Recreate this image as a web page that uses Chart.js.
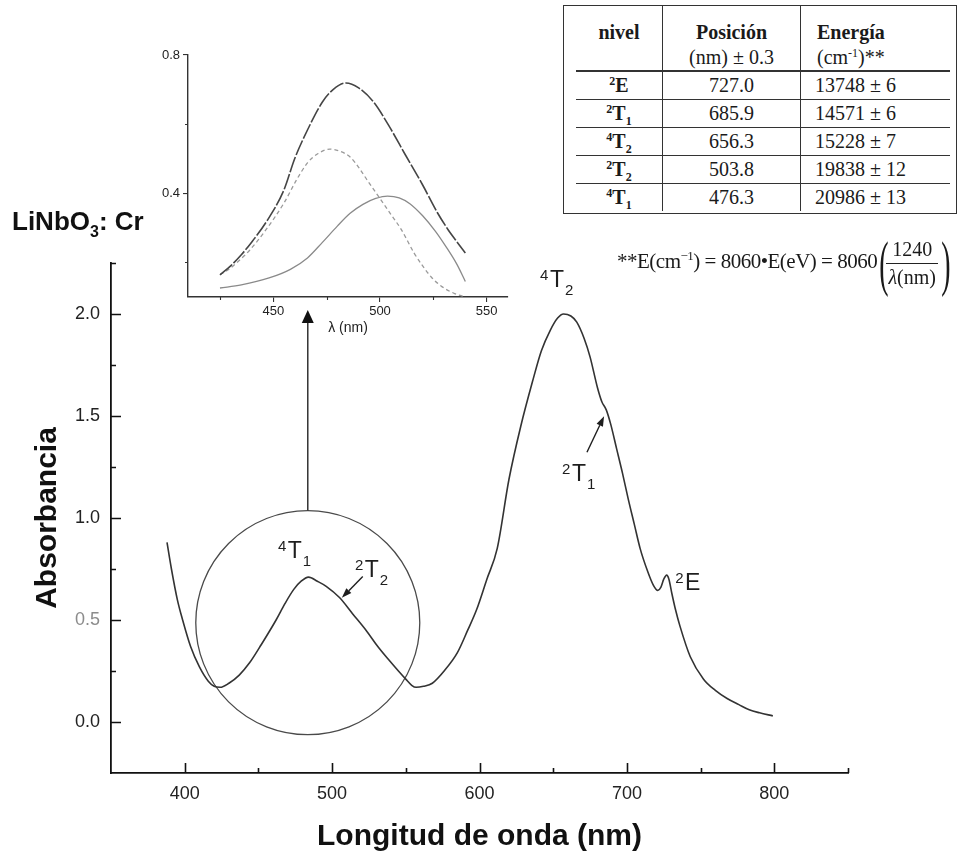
<!DOCTYPE html>
<html>
<head>
<meta charset="utf-8">
<title>LiNbO3: Cr — Absorbancia</title>
<script src="https://cdn.jsdelivr.net/npm/chart.js@4.4.1/dist/chart.umd.min.js"></script>
<style>
  html, body { margin: 0; padding: 0; width: 962px; height: 855px; overflow: hidden; background: #fff; }
  #main { position: absolute; left: 0; top: 0; }
  #inset { position: absolute; left: 120px; top: 30px; }
  .sample { position: absolute; left: 12px; top: 206px; line-height: 26px; white-space: nowrap;
            font: bold 26px "Liberation Sans", Arial, sans-serif; color: #111; }
  .sample sub { font-size: 16px; vertical-align: -7px; line-height: 0; }
  #levels { position: absolute; left: 563px; top: 5px; width: 394px; height: 209px; box-sizing: border-box;
            border: 1.5px solid #333; background: #fff; }
  #levels table { position: absolute; left: 12px; top: 0; width: 374px; border-collapse: collapse; table-layout: fixed;
            font: 20px "Liberation Serif", "Times New Roman", serif; color: #1a1a1a; }
  #levels th { font-weight: normal; vertical-align: top; padding: 14px 0 0 0; height: 50px; line-height: 25px; }
  #levels th b { font-weight: bold; }
  #levels td { height: 27px; padding: 0; line-height: 27px; border-top: 1.5px solid #333; }
  #levels thead tr th { border-bottom: 2.2px solid #333; }
  #levels .c1 { width: 86px; text-align: center; }
  #levels .c2 { width: 137px; text-align: center; border-left: 1.5px solid #333; }
  #levels .c3 { text-align: left; padding-left: 16px; border-left: 1.5px solid #333; }
  #levels td.c3 { padding-left: 14px; }
  #levels sup { font-size: 12px; vertical-align: 7px; line-height: 0; }
  #levels sub { font-size: 12px; vertical-align: -5px; line-height: 0; }
  #levels .term { font-weight: bold; }
  #formula { position: absolute; left: 617px; top: 232px; height: 62px; display: flex; align-items: center;
             font: 21px "Liberation Serif", "Times New Roman", serif; color: #1a1a1a; white-space: nowrap; }
  #formula .lhs { position: relative; top: -2px; letter-spacing: -0.5px; }
  #formula .lhs sup { font-size: 13px; vertical-align: 8px; line-height: 0; }
  #formula .paren { font-size: 62px; line-height: 62px; display: inline-block; transform: scaleX(0.45); width: 8px; text-align: center; font-weight: normal; }
  #formula .frac { display: inline-flex; flex-direction: column; align-items: center; margin: 0 1px; line-height: 27px; font-size: 20px; }
  #formula .bar { display: block; width: 52px; height: 0; border-top: 1.3px solid #222; }
</style>
</head>
<body>
<canvas id="main" width="962" height="855"></canvas>
<canvas id="inset" width="400" height="320"></canvas>
<div class="sample">LiNbO<sub>3</sub>: Cr</div>
<div id="levels">
  <table>
    <thead>
      <tr>
        <th class="c1"><b>nivel</b></th>
        <th class="c2"><b>Posición</b><br>(nm) ± 0.3</th>
        <th class="c3"><b>Energía</b><br>(cm<sup>-1</sup>)**</th>
      </tr>
    </thead>
    <tbody id="levelRows"></tbody>
  </table>
</div>
<div id="formula">
  <span class="lhs">**E(cm<sup>−1</sup>) = 8060•E(eV) = 8060</span>
  <span class="paren">(</span>
  <span class="frac"><span>1240</span><span class="bar"></span><span><i>λ</i>(nm)</span></span>
  <span class="paren">)</span>
</div>

<script>
// ---- Absorption spectrum of LiNbO3:Cr (wavelength in nm, absorbance) ----
const spectrumNm = [388, 391, 395, 398.6, 404, 410, 416, 420, 424, 430, 437, 444, 452, 462, 468, 474, 479, 484,
                    490, 496, 505, 514, 523, 531, 539, 545, 550, 554, 557, 562, 568, 576, 585, 592, 598, 605,
                    612, 620, 628, 636, 642, 648, 653, 657, 662, 666, 671, 675, 680, 683, 686, 689, 693, 697,
                    701, 705, 709, 714, 718, 721, 723, 725, 727, 728.5, 730.5, 733, 736, 743, 752, 760, 768,
                    776, 783, 790, 799];
const spectrumAbs = [0.88, 0.75, 0.60, 0.50, 0.37, 0.27, 0.20, 0.175, 0.17, 0.19, 0.23, 0.29, 0.38, 0.50, 0.58, 0.65, 0.69, 0.71,
                     0.69, 0.665, 0.61, 0.53, 0.45, 0.37, 0.30, 0.25, 0.21, 0.18, 0.17, 0.175, 0.19, 0.25, 0.34, 0.45, 0.55, 0.70,
                     0.85, 1.19, 1.45, 1.67, 1.82, 1.92, 1.98, 2.00, 1.99, 1.96, 1.88, 1.79, 1.64, 1.57, 1.53, 1.46, 1.34, 1.22,
                     1.09, 0.97, 0.85, 0.74, 0.67, 0.645, 0.66, 0.70, 0.72, 0.70, 0.63, 0.55, 0.47, 0.32, 0.21, 0.155, 0.115,
                     0.085, 0.06, 0.045, 0.03];

// Axis ticks of the main plot
const xMajor = [400, 500, 600, 700, 800];
const xMinor = [450, 550, 650, 750, 850];
const yMajor = [0, 0.5, 1.0, 1.5, 2.0];
const yMinor = [0.25, 0.75, 1.25, 1.75, 2.25];

// ---- Gaussian decomposition of the 4T1 band (inset) ----
const sumNm  = [425, 430, 435, 440, 447, 455, 460, 466, 473, 478, 484, 490, 497, 504, 512, 520, 527, 532, 536, 540];
const sumAbs = [0.164, 0.19, 0.222, 0.26, 0.32, 0.41, 0.50, 0.583, 0.664, 0.70, 0.719, 0.705, 0.664, 0.597, 0.51, 0.424, 0.343, 0.294, 0.26, 0.227];
const band4T1Nm  = [425, 428, 433, 439, 446, 455, 461, 466, 471, 476.5, 481, 486, 490, 494, 500, 505, 510, 516, 520, 524, 529, 535, 540];
const band4T1Abs = [0.165, 0.175, 0.20, 0.236, 0.29, 0.372, 0.44, 0.488, 0.515, 0.528, 0.522, 0.505, 0.475, 0.438, 0.385, 0.34, 0.295, 0.227, 0.19, 0.158, 0.13, 0.11, 0.10];
const band2T2Nm  = [425, 435, 448, 458, 466, 473, 480, 486, 492, 498, 503.5, 509, 514, 520, 526, 531, 536, 540];
const band2T2Abs = [0.126, 0.135, 0.155, 0.18, 0.213, 0.258, 0.305, 0.342, 0.368, 0.385, 0.392, 0.387, 0.37, 0.335, 0.29, 0.245, 0.195, 0.145];
const insetXTicks = [450, 500, 550];
const insetXMinor = [425, 475, 525];
const insetYTicks = [0.4, 0.8];
const insetYMinor = [0.2, 0.6];

// ---- Table of crystal-field levels ----
const levelSup  = ['2', '2', '4', '2', '4'];
const levelTerm = ['E', 'T', 'T', 'T', 'T'];
const levelSub  = ['', '1', '2', '2', '1'];
const levelNm   = ['727.0', '685.9', '656.3', '503.8', '476.3'];
const levelCm   = ['13748', '14571', '15228', '19838', '20986'];
const levelErr  = ['6', '6', '7', '12', '13'];

// Level labels on the spectrum, anchored (nm, absorbance) at the baseline of the main letter
const levelLabels = [
  { sup: '4', main: 'T', sub: '1', nm: 469.9, abs: 0.806 },
  { sup: '2', main: 'T', sub: '2', nm: 522.2, abs: 0.713 },
  { sup: '4', main: 'T', sub: '2', nm: 647.8, abs: 2.133 },
  { sup: '2', main: 'T', sub: '1', nm: 662.7, abs: 1.179 },
  { sup: '2', main: 'E', sub: '',  nm: 739.4, abs: 0.649 }
];
const levelArrows = [
  { fromNm: 520.8, fromAbs: 0.713, toNm: 506.6, toAbs: 0.609 },
  { fromNm: 672.9, fromAbs: 1.322, toNm: 684.5, toAbs: 1.499 }
];
// Magnified 4T1 region and the arrow pointing up to the inset
const magnifier = { nm: 483.5, abs: 0.487, topAbs: 1.037, tipAbs: 2.02 };

// ---- table rows ----
const tbody = document.getElementById('levelRows');
levelTerm.forEach((t, i) => {
  const tr = document.createElement('tr');
  tr.innerHTML =
    '<td class="c1"><span class="term"><sup>' + levelSup[i] + '</sup>' + t +
    (levelSub[i] ? '<sub>' + levelSub[i] + '</sub>' : '') + '</span></td>' +
    '<td class="c2">' + levelNm[i] + '</td>' +
    '<td class="c3">' + levelCm[i] + ' ± ' + levelErr[i] + '</td>';
  tbody.appendChild(tr);
});

const SANS = '"Liberation Sans", Arial, Helvetica, sans-serif';

// Tick marks drawn at the axis lines (inward for the main plot, outward for the inset)
const tickMarks = {
  id: 'tickMarks',
  afterDraw(chart, args, o) {
    const { ctx, chartArea } = chart;
    const sx = chart.scales.x, sy = chart.scales.y;
    const d = o.inward ? -1 : 1;
    ctx.save();
    ctx.strokeStyle = o.color;
    ctx.lineWidth = o.width;
    ctx.beginPath();
    const xs = [[o.xMajor || [], o.majorLen], [o.xMinor || [], o.minorLen]];
    const ys = [[o.yMajor || [], o.majorLen], [o.yMinor || [], o.minorLen]];
    xs.forEach(([vals, len]) => vals.forEach(v => {
      const px = Math.round(sx.getPixelForValue(v)) + 0.5;
      ctx.moveTo(px, chartArea.bottom); ctx.lineTo(px, chartArea.bottom + d * len);
    }));
    ys.forEach(([vals, len]) => vals.forEach(v => {
      const py = Math.round(sy.getPixelForValue(v)) + 0.5;
      ctx.moveTo(chartArea.left, py); ctx.lineTo(chartArea.left - d * len, py);
    }));
    ctx.stroke();
    ctx.restore();
  }
};

function arrow(ctx, x1, y1, x2, y2, headLen, headW) {
  const a = Math.atan2(y2 - y1, x2 - x1);
  const bx = x2 - headLen * Math.cos(a), by = y2 - headLen * Math.sin(a);
  ctx.beginPath();
  ctx.moveTo(x1, y1); ctx.lineTo(bx, by);
  ctx.stroke();
  ctx.beginPath();
  ctx.moveTo(x2, y2);
  ctx.lineTo(bx + headW / 2 * Math.sin(a), by - headW / 2 * Math.cos(a));
  ctx.lineTo(bx - headW / 2 * Math.sin(a), by + headW / 2 * Math.cos(a));
  ctx.closePath();
  ctx.fill();
}

// Level labels and arrows on the spectrum
const spectrumNotes = {
  id: 'spectrumNotes',
  afterDatasetsDraw(chart) {
    const { ctx } = chart;
    const sx = chart.scales.x, sy = chart.scales.y;
    ctx.save();
    ctx.fillStyle = '#1e1e1e';
    ctx.strokeStyle = '#1e1e1e';
    ctx.textBaseline = 'alphabetic';
    levelLabels.forEach(l => {
      const px = sx.getPixelForValue(l.nm), py = sy.getPixelForValue(l.abs);
      ctx.font = '23px ' + SANS;
      const w = ctx.measureText(l.main).width;
      ctx.textAlign = 'left';
      ctx.fillText(l.main, px, py);
      ctx.font = '15px ' + SANS;
      ctx.textAlign = 'right';
      ctx.fillText(l.sup, px - 1.5, py - 7);
      if (l.sub) { ctx.textAlign = 'left'; ctx.fillText(l.sub, px + w + 1, py + 8); }
    });
    ctx.lineWidth = 1.4;
    levelArrows.forEach(a => arrow(ctx,
      sx.getPixelForValue(a.fromNm), sy.getPixelForValue(a.fromAbs),
      sx.getPixelForValue(a.toNm), sy.getPixelForValue(a.toAbs), 10, 7));
    ctx.strokeStyle = '#333';
    ctx.fillStyle = '#111';
    ctx.lineWidth = 1.5;
    const mx = sx.getPixelForValue(magnifier.nm);
    arrow(ctx, mx, sy.getPixelForValue(magnifier.topAbs), mx, sy.getPixelForValue(magnifier.tipAbs), 13, 12);
    ctx.restore();
  }
};

new Chart(document.getElementById('main'), {
  type: 'line',
  data: {
    datasets: [
      {
        data: spectrumNm.map((x, i) => ({ x, y: spectrumAbs[i] })),
        borderColor: '#333',
        borderWidth: 1.6,
        pointRadius: 0,
        cubicInterpolationMode: 'monotone',
        fill: false
      },
      {
        type: 'scatter',
        data: [{ x: magnifier.nm, y: magnifier.abs }],
        pointRadius: 112,
        pointHoverRadius: 112,
        pointStyle: 'circle',
        borderColor: '#4a4a4a',
        borderWidth: 1.3,
        backgroundColor: 'rgba(0,0,0,0)'
      }
    ]
  },
  options: {
    responsive: false,
    animation: false,
    events: [],
    layout: { autoPadding: false, padding: { top: 263, right: 114, bottom: 0, left: 0 } },
    plugins: {
      legend: { display: false },
      tooltip: { enabled: false },
      tickMarks: { inward: true, color: '#111', width: 1.6, majorLen: 10, minorLen: 5,
                   xMajor, xMinor, yMajor, yMinor }
    },
    scales: {
      x: {
        type: 'linear', min: 350, max: 850,
        afterBuildTicks: s => { s.ticks = xMajor.map(v => ({ value: v })); },
        afterFit: s => { s.height = 82; },
        grid: { display: false, drawTicks: false },
        border: { display: true, color: '#111', width: 1.8 },
        ticks: { padding: 10, color: '#222', font: { family: SANS, size: 18 }, callback: v => String(v), maxRotation: 0 },
        title: { display: true, text: 'Longitud de onda (nm)', color: '#111',
                 font: { family: SANS, size: 30, weight: 'bold' }, padding: { top: 0, bottom: 0 } }
      },
      y: {
        type: 'linear', min: -0.25, max: 2.25,
        afterBuildTicks: s => { s.ticks = yMajor.map(v => ({ value: v })); },
        afterFit: s => { s.width = 111; },
        grid: { display: false, drawTicks: false },
        border: { display: true, color: '#111', width: 1.8 },
        ticks: { padding: 11, font: { family: SANS, size: 18 }, callback: v => v.toFixed(1),
                 color: c => (c.tick && c.tick.value === 0.5) ? '#8c8c8c' : '#222' },
        title: { display: true, text: 'Absorbancia', color: '#111',
                 font: { family: SANS, size: 30, weight: 'bold' }, padding: { top: 30, bottom: 0 } }
      }
    }
  },
  plugins: [tickMarks, spectrumNotes]
});

// ---- inset: band decomposition ----
new Chart(document.getElementById('inset'), {
  type: 'line',
  data: {
    datasets: [
      { data: sumNm.map((x, i) => ({ x, y: sumAbs[i] })), borderColor: '#454545', borderWidth: 1.6,
        borderDash: [16, 2], pointRadius: 0, cubicInterpolationMode: 'monotone' },
      { data: band4T1Nm.map((x, i) => ({ x, y: band4T1Abs[i] })), borderColor: '#9a9a9a', borderWidth: 1.3,
        borderDash: [4, 3], pointRadius: 0, cubicInterpolationMode: 'monotone' },
      { data: band2T2Nm.map((x, i) => ({ x, y: band2T2Abs[i] })), borderColor: '#8a8a8a', borderWidth: 1.3,
        pointRadius: 0, cubicInterpolationMode: 'monotone' }
    ]
  },
  options: {
    responsive: false,
    animation: false,
    events: [],
    layout: { autoPadding: false, padding: { top: 25, right: 12, bottom: 0, left: 0 } },
    plugins: {
      legend: { display: false },
      tooltip: { enabled: false },
      tickMarks: { inward: false, color: '#333', width: 1.1, majorLen: 5, minorLen: 3,
                   xMinor: insetXMinor, yMinor: insetYMinor }
    },
    scales: {
      x: {
        type: 'linear', min: 410, max: 560,
        afterBuildTicks: s => { s.ticks = insetXTicks.map(v => ({ value: v })); },
        afterFit: s => { s.height = 53; },
        grid: { display: true, drawOnChartArea: false, drawTicks: true, tickLength: 5, color: '#333', lineWidth: 1.1 },
        border: { display: true, color: '#333', width: 1.4 },
        ticks: { padding: 2, color: '#222', font: { family: SANS, size: 13 }, callback: v => String(v), maxRotation: 0 },
        title: { display: true, text: 'λ (nm)', color: '#222', font: { family: SANS, size: 14 }, padding: { top: 0, bottom: 13 } }
      },
      y: {
        type: 'linear', min: 0.1, max: 0.8,
        afterBuildTicks: s => { s.ticks = insetYTicks.map(v => ({ value: v })); },
        afterFit: s => { s.width = 68; },
        grid: { display: true, drawOnChartArea: false, drawTicks: true, tickLength: 5, color: '#333', lineWidth: 1.1 },
        border: { display: true, color: '#333', width: 1.4 },
        ticks: { padding: 3, color: '#222', font: { family: SANS, size: 13 }, callback: v => v.toFixed(1) }
      }
    }
  },
  plugins: [tickMarks]
});
</script>
</body>
</html>
